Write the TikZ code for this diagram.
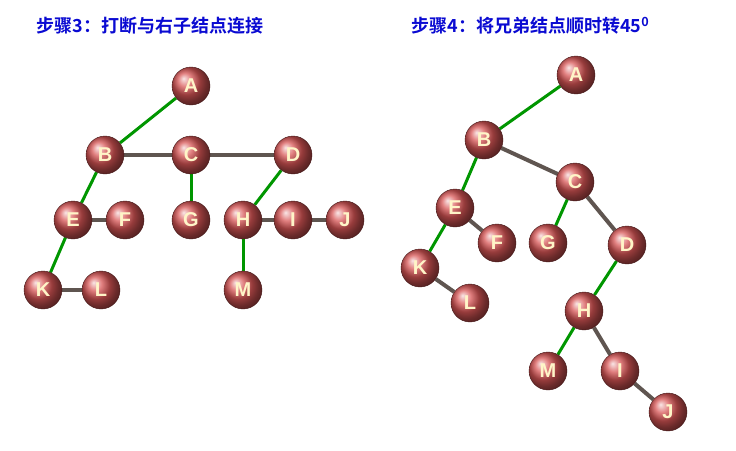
\documentclass[tikz,border=0pt]{standalone}
\usepackage{fontspec}
\setmainfont{Liberation Sans}
\newfontfamily\cjk{Noto Sans CJK SC}[BoldFont={Noto Sans CJK SC Bold}]
\pgfdeclarelayer{bg}
\pgfsetlayers{bg,main}
\begin{document}
\begin{tikzpicture}[x=1pt,y=-1pt,
  nd/.style={circle,minimum size=38pt,inner sep=0pt,shading=ball,ball color={rgb,255:red,215;green,85;blue,85},draw={rgb,255:red,70;green,25;blue,25},thin,text={rgb,255:red,255;green,245;blue,200},font=\bfseries\fontsize{20}{20}\selectfont},
  gr/.style={draw={rgb,255:red,0;green,150;blue,0},line width=3pt},
  gy/.style={draw={rgb,255:red,95;green,85;blue,80},line width=4pt},
  ttl/.style={anchor=west,text={rgb,255:red,10;green,10;blue,210},font=\cjk\bfseries\fontsize{18}{18}\selectfont}]
\useasboundingbox (0,0) rectangle (736,450);
\node[ttl] (t1) at (33,26) {步骤3：打断与右子结点连接};
\node[ttl] (t2) at (408,26) {步骤4：将兄弟结点顺时转45\textsuperscript{0}};
\foreach \n/\x/\y in {A/191/86,B/105/155,C/191/155,D/293/155,E/73/220,F/125/220,G/191/220,H/243/220,I/293/220,J/345/220,K/43/290,L/101/290,M/243/290}
  \node[nd] (l\n) at (\x,\y) {\n};
\foreach \n/\x/\y in {A/576/75,B/484/140,C/575/182,D/627/245,E/455/208,F/497/243,G/548/243,H/584/311,I/620/371,J/668/412,K/420/268,L/470/303,M/548/371}
  \node[nd] (r\n) at (\x,\y) {\n};
\begin{pgfonlayer}{bg}
\fill[white] (0,0) rectangle (736,450);
\foreach \p in {l,r}{
  \foreach \a/\b in {A/B,B/E,E/K,C/G,D/H,H/M}
    \draw[gr] (\p\a) -- (\p\b);
  \foreach \a/\b in {B/C,C/D,E/F,K/L,H/I,I/J}
    \draw[gy] (\p\a) -- (\p\b);
}
\end{pgfonlayer}
\end{tikzpicture}
\end{document}
